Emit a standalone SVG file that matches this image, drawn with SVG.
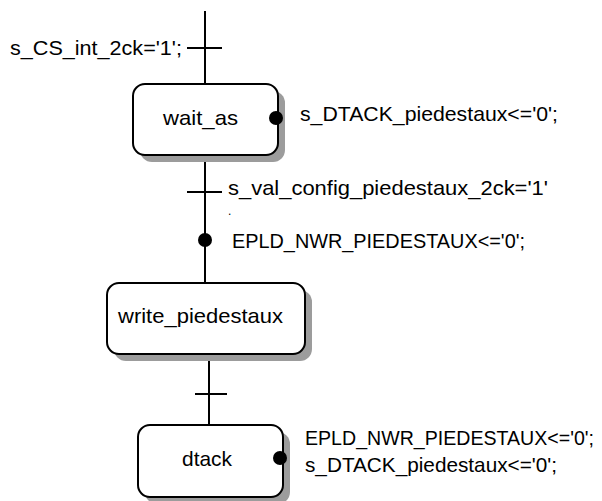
<svg xmlns="http://www.w3.org/2000/svg" width="602" height="501" viewBox="0 0 602 501">
<style>
.shadow{fill:#9c9c9c;stroke:none}
.box{fill:#ffffff;stroke:#000;stroke-width:2}
.ln{stroke:#000;stroke-width:2;fill:none}
.dot{fill:#000}
text{font-family:"Liberation Sans",Arial,sans-serif;font-size:21px;fill:#000}
</style>
<rect width="602" height="501" fill="#ffffff"/>
<g id="connectors">
<line class="ln" x1="205" y1="11" x2="205" y2="84"/>
<line class="ln" x1="187" y1="48" x2="222" y2="48"/>
<line class="ln" x1="205" y1="155" x2="205" y2="283"/>
<line class="ln" x1="187" y1="192" x2="222" y2="192"/>
<circle class="dot" cx="205" cy="240" r="7"/>
<line class="ln" x1="209" y1="354" x2="209" y2="425"/>
<line class="ln" x1="195" y1="394" x2="227" y2="394"/>
<text x="10" y="55" textLength="172" lengthAdjust="spacingAndGlyphs">s_CS_int_2ck='1';</text>
<text x="228" y="195" textLength="320" lengthAdjust="spacingAndGlyphs">s_val_config_piedestaux_2ck='1'</text>
<text x="228" y="215" style="font-size:12px">.</text>
<text x="232" y="248" textLength="293" lengthAdjust="spacingAndGlyphs">EPLD_NWR_PIEDESTAUX&lt;='0';</text>
</g>
<g id="wait_as">
<rect class="shadow" x="140" y="91" width="145" height="71" rx="12"/>
<rect class="box" x="133" y="84" width="145" height="71" rx="12"/>
<text x="163" y="125" textLength="75" lengthAdjust="spacingAndGlyphs">wait_as</text>
<circle class="dot" cx="276" cy="118" r="7"/>
<text x="300" y="121" textLength="258" lengthAdjust="spacingAndGlyphs">s_DTACK_piedestaux&lt;='0';</text>
</g>
<g id="write_piedestaux">
<rect class="shadow" x="114" y="290" width="198" height="71" rx="12"/>
<rect class="box" x="107" y="283" width="198" height="71" rx="12"/>
<text x="118" y="323" textLength="165" lengthAdjust="spacingAndGlyphs">write_piedestaux</text>
</g>
<g id="dtack">
<rect class="shadow" x="145" y="432" width="145" height="72" rx="12"/>
<rect class="box" x="138" y="425" width="145" height="72" rx="12"/>
<text x="182" y="466" textLength="50" lengthAdjust="spacingAndGlyphs">dtack</text>
<circle class="dot" cx="280" cy="458" r="7"/>
<text x="305" y="445" style="font-size:19.5px" textLength="289" lengthAdjust="spacingAndGlyphs">EPLD_NWR_PIEDESTAUX&lt;='0';</text>
<text x="305" y="472" textLength="252" lengthAdjust="spacingAndGlyphs">s_DTACK_piedestaux&lt;='0';</text>
</g>
</svg>
